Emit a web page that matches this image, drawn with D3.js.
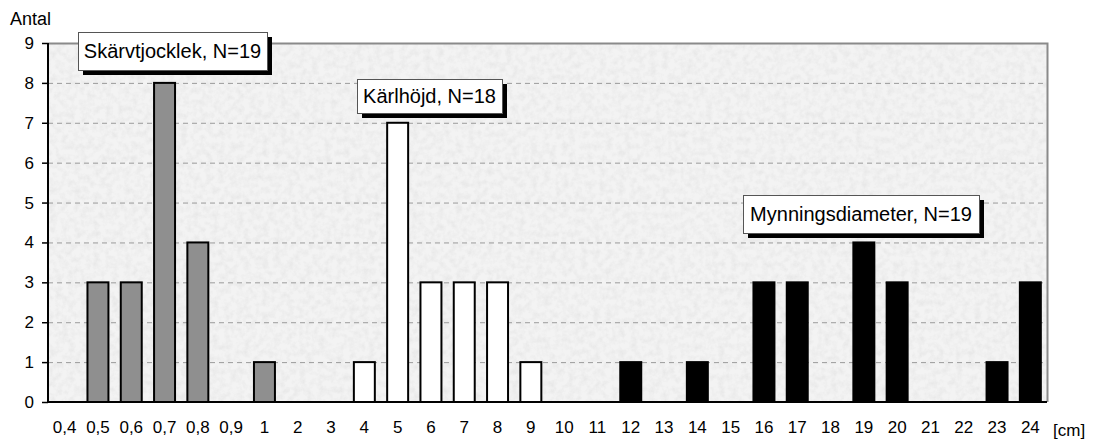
<!DOCTYPE html>
<html><head><meta charset="utf-8">
<script src="https://cdn.jsdelivr.net/npm/d3@7"></script>
<style>body{margin:0;background:#fff}svg{display:block;font-family:Arial,"Liberation Sans",sans-serif}</style>
</head><body><svg id="c" width="1098" height="441"></svg>
<script>
const categories = ["0,4","0,5","0,6","0,7","0,8","0,9","1","2","3","4","5","6","7","8","9","10","11","12","13","14","15","16","17","18","19","20","21","22","23","24"];
const skarvtjocklek = [0,3,3,8,4,0,1,0,0,0,0,0,0,0,0,0,0,0,0,0,0,0,0,0,0,0,0,0,0,0];
const karlhojd =      [0,0,0,0,0,0,0,0,0,1,7,3,3,3,1,0,0,0,0,0,0,0,0,0,0,0,0,0,0,0];
const mynning =       [0,0,0,0,0,0,0,0,0,0,0,0,0,0,0,0,0,1,0,1,0,3,3,0,4,3,0,0,1,3];
const yTicks = [0,1,2,3,4,5,6,7,8,9];
const seriesNames = ["Skärvtjocklek, N=19","Kärlhöjd, N=18","Mynningsdiameter, N=19"];
</script>
<script>
const series = [
  {name:seriesNames[0], values:skarvtjocklek, fill:"#8f8f8f"},
  {name:seriesNames[1], values:karlhojd, fill:"#ffffff"},
  {name:seriesNames[2], values:mynning, fill:"#000000"}
];
const labels = [
  {text:seriesNames[0], x:78, y:32, w:189, h:38},
  {text:seriesNames[1], x:357, y:79, w:145, h:34},
  {text:seriesNames[2], x:743, y:195, w:236, h:38}
];

const svg = d3.select("#c");
const L=48, R=1047, T=43, B=402;
const x = d3.scaleBand().domain(categories).range([L,R]).paddingInner(0.37).paddingOuter(0.185);
const y = d3.scaleLinear().domain([0,9]).range([B,T]);

const defs = svg.append("defs");
const f = defs.append("filter").attr("id","noise").attr("x",0).attr("y",0).attr("width","100%").attr("height","100%");
f.append("feTurbulence").attr("type","fractalNoise").attr("baseFrequency",0.16).attr("numOctaves",3).attr("seed",7).attr("result","n");
f.append("feColorMatrix").attr("in","n").attr("type","matrix")
 .attr("values","0 0 0 0 0.74  0 0 0 0 0.74  0 0 0 0 0.74  0 0 0 -1.5 0.95").attr("result","a");
f.append("feComposite").attr("in","a").attr("in2","SourceGraphic").attr("operator","in");

svg.append("rect").attr("x",L).attr("y",T).attr("width",R-L).attr("height",B-T).attr("fill","#f3f3f3");
svg.append("rect").attr("x",L).attr("y",T).attr("width",R-L).attr("height",B-T).attr("fill","#fff").attr("filter","url(#noise)").attr("opacity",0.7);

// gridlines
svg.append("g").selectAll("line").data(yTicks.filter(d=>d>0&&d<9)).join("line")
  .attr("x1",L).attr("x2",R).attr("y1",d=>y(d)+0.5).attr("y2",d=>y(d)+0.5)
  .attr("stroke","#9a9a9a").attr("stroke-width",1).attr("stroke-dasharray","5,4");

// border top/right
svg.append("path").attr("d",`M${L},${T+0.5}H${R+0.5}V${B}`).attr("fill","none").attr("stroke","#8a8a8a").attr("stroke-width",2);

// bars
series.forEach(s=>{
  svg.append("g").selectAll("rect").data(categories.map((c,i)=>({c,v:s.values[i]})).filter(d=>d.v>0)).join("rect")
    .attr("x",d=>x(d.c)).attr("width",x.bandwidth())
    .attr("y",d=>y(d.v)).attr("height",d=>y(0)-y(d.v))
    .attr("fill",s.fill).attr("stroke","#000").attr("stroke-width",2);
});

const FONT = "Arial, 'Liberation Sans', sans-serif";
// y axis
const ya = svg.append("g").attr("transform",`translate(${L},0)`)
  .call(d3.axisLeft(y).tickValues(yTicks).tickSize(6).tickPadding(8).tickFormat(d3.format("d")));
ya.select(".domain").attr("stroke","#000").attr("stroke-width",2).attr("d",`M0,${T}V${B}`);
ya.selectAll(".tick line").attr("stroke","#000").attr("stroke-width",1.5);
ya.selectAll("text").attr("font-size",17).attr("fill","#000").attr("font-family",FONT);

// x axis
const xa = svg.append("g").attr("transform",`translate(0,${B})`)
  .call(d3.axisBottom(x).tickSize(0).tickPadding(19));
xa.select(".domain").attr("stroke","#000").attr("stroke-width",2).attr("d",`M${L},0H${R}`);
xa.selectAll("text").attr("font-size",17).attr("fill","#000").attr("font-family",FONT);

svg.append("text").attr("x",10).attr("y",25).attr("font-size",18).attr("font-family",FONT).text("Antal");
svg.append("text").attr("x",1053).attr("y",436).attr("font-size",17).attr("font-family",FONT).text("[cm]");

// label boxes
const lg = svg.append("g").selectAll("g").data(labels).join("g");
lg.append("rect").attr("x",d=>d.x+5).attr("y",d=>d.y+5).attr("width",d=>d.w).attr("height",d=>d.h).attr("fill","#000");
lg.append("rect").attr("x",d=>d.x+0.5).attr("y",d=>d.y+0.5).attr("width",d=>d.w).attr("height",d=>d.h).attr("fill","#fff").attr("stroke","#555").attr("stroke-width",1);
lg.append("text").attr("x",d=>d.x+d.w/2).attr("y",d=>d.y+d.h/2+7).attr("text-anchor","middle").attr("font-size",20).attr("font-family",FONT).text(d=>d.text);
</script></body></html>
